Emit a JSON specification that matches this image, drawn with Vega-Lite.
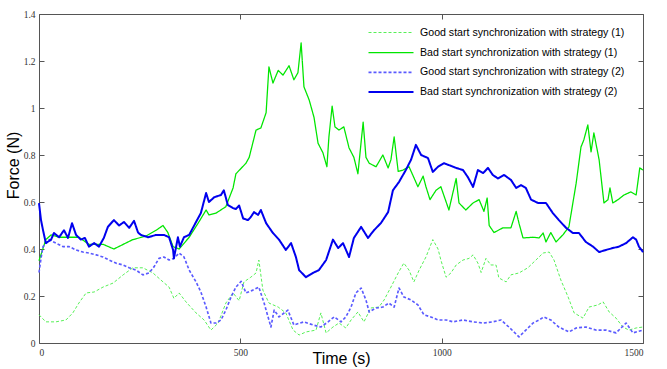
{
  "$schema": "https://vega.github.io/schema/vega-lite/v6.json",
  "width": 604,
  "height": 329,
  "autosize": "none",
  "padding": {"left": 39, "top": 14, "right": 24, "bottom": 26},
  "background": "white",
  "config": {
    "view": {"stroke": null},
    "font": "Liberation Sans",
    "axis": {
      "grid": false,
      "domainColor": "#555555",
      "tickColor": "#555555",
      "tickSize": -5,
      "labelOverlap": false,
      "labelColor": "#333333",
      "labelFont": "Liberation Sans Narrow",
      "labelFontSize": 9.5,
      "titleFont": "Liberation Sans",
      "titleFontSize": 16,
      "titleFontWeight": "normal",
      "titleColor": "#000000"
    },
    "legend": {
      "orient": "none",
      "legendX": 346,
      "legendY": 13,
      "title": null,
      "symbolType": "M-4.5,0H4.5",
      "symbolSize": 100,
      "rowPadding": 7.7,
      "labelOffset": 23,
      "labelFont": "Liberation Sans",
      "labelFontSize": 10.6,
      "labelColor": "#000000",
      "labelLimit": 400
    }
  },
  "data": {"values": [
    {"s":"G1","t":0,"f":0.12},{"s":"G1","t":17,"f":0.09},{"s":"G1","t":42,"f":0.09},{"s":"G1","t":67,"f":0.098},{"s":"G1","t":84,"f":0.128},{"s":"G1","t":99,"f":0.17},{"s":"G1","t":117,"f":0.213},{"s":"G1","t":137,"f":0.217},{"s":"G1","t":159,"f":0.238},{"s":"G1","t":184,"f":0.255},{"s":"G1","t":209,"f":0.29},{"s":"G1","t":233,"f":0.32},{"s":"G1","t":258,"f":0.32},{"s":"G1","t":283,"f":0.298},{"s":"G1","t":308,"f":0.26},{"s":"G1","t":323,"f":0.238},{"s":"G1","t":335,"f":0.19},{"s":"G1","t":348,"f":0.213},{"s":"G1","t":365,"f":0.175},{"s":"G1","t":390,"f":0.128},{"s":"G1","t":410,"f":0.098},{"s":"G1","t":427,"f":0.055},{"s":"G1","t":445,"f":0.085},{"s":"G1","t":464,"f":0.17},{"s":"G1","t":482,"f":0.213},{"s":"G1","t":497,"f":0.18},{"s":"G1","t":509,"f":0.26},{"s":"G1","t":526,"f":0.28},{"s":"G1","t":539,"f":0.298},{"s":"G1","t":546,"f":0.353},{"s":"G1","t":556,"f":0.225},{"s":"G1","t":571,"f":0.17},{"s":"G1","t":594,"f":0.153},{"s":"G1","t":613,"f":0.128},{"s":"G1","t":631,"f":0.055},{"s":"G1","t":646,"f":0.034},{"s":"G1","t":663,"f":0.047},{"s":"G1","t":688,"f":0.055},{"s":"G1","t":700,"f":0.128},{"s":"G1","t":713,"f":0.043},{"s":"G1","t":730,"f":0.068},{"s":"G1","t":745,"f":0.085},{"s":"G1","t":762,"f":0.064},{"s":"G1","t":775,"f":0.098},{"s":"G1","t":792,"f":0.132},{"s":"G1","t":807,"f":0.09},{"s":"G1","t":824,"f":0.149},{"s":"G1","t":844,"f":0.153},{"s":"G1","t":857,"f":0.183},{"s":"G1","t":874,"f":0.238},{"s":"G1","t":892,"f":0.298},{"s":"G1","t":906,"f":0.34},{"s":"G1","t":919,"f":0.31},{"s":"G1","t":931,"f":0.26},{"s":"G1","t":944,"f":0.31},{"s":"G1","t":961,"f":0.366},{"s":"G1","t":978,"f":0.44},{"s":"G1","t":991,"f":0.4},{"s":"G1","t":998,"f":0.353},{"s":"G1","t":1011,"f":0.28},{"s":"G1","t":1023,"f":0.298},{"s":"G1","t":1036,"f":0.332},{"s":"G1","t":1053,"f":0.353},{"s":"G1","t":1068,"f":0.36},{"s":"G1","t":1078,"f":0.375},{"s":"G1","t":1090,"f":0.34},{"s":"G1","t":1098,"f":0.3},{"s":"G1","t":1110,"f":0.36},{"s":"G1","t":1122,"f":0.332},{"s":"G1","t":1135,"f":0.332},{"s":"G1","t":1142,"f":0.277},{"s":"G1","t":1160,"f":0.26},{"s":"G1","t":1172,"f":0.29},{"s":"G1","t":1192,"f":0.298},{"s":"G1","t":1214,"f":0.32},{"s":"G1","t":1234,"f":0.353},{"s":"G1","t":1252,"f":0.383},{"s":"G1","t":1267,"f":0.387},{"s":"G1","t":1279,"f":0.353},{"s":"G1","t":1296,"f":0.268},{"s":"G1","t":1314,"f":0.196},{"s":"G1","t":1329,"f":0.128},{"s":"G1","t":1351,"f":0.106},{"s":"G1","t":1366,"f":0.153},{"s":"G1","t":1388,"f":0.162},{"s":"G1","t":1401,"f":0.175},{"s":"G1","t":1416,"f":0.132},{"s":"G1","t":1433,"f":0.106},{"s":"G1","t":1450,"f":0.068},{"s":"G1","t":1465,"f":0.055},{"s":"G1","t":1483,"f":0.064},{"s":"G1","t":1500,"f":0.068},

    {"s":"B1","t":0,"f":0.35},{"s":"B1","t":17,"f":0.44},{"s":"B1","t":30,"f":0.46},{"s":"B1","t":50,"f":0.45},{"s":"B1","t":75,"f":0.45},{"s":"B1","t":99,"f":0.45},{"s":"B1","t":124,"f":0.42},{"s":"B1","t":159,"f":0.42},{"s":"B1","t":186,"f":0.4},{"s":"B1","t":233,"f":0.44},{"s":"B1","t":266,"f":0.455},{"s":"B1","t":291,"f":0.48},{"s":"B1","t":308,"f":0.5},{"s":"B1","t":320,"f":0.47},{"s":"B1","t":333,"f":0.41},{"s":"B1","t":348,"f":0.4},{"s":"B1","t":373,"f":0.45},{"s":"B1","t":397,"f":0.515},{"s":"B1","t":415,"f":0.566},{"s":"B1","t":422,"f":0.545},{"s":"B1","t":440,"f":0.553},{"s":"B1","t":464,"f":0.58},{"s":"B1","t":482,"f":0.66},{"s":"B1","t":489,"f":0.72},{"s":"B1","t":514,"f":0.765},{"s":"B1","t":522,"f":0.79},{"s":"B1","t":539,"f":0.906},{"s":"B1","t":551,"f":0.915},{"s":"B1","t":564,"f":0.98},{"s":"B1","t":571,"f":1.175},{"s":"B1","t":581,"f":1.106},{"s":"B1","t":594,"f":1.16},{"s":"B1","t":606,"f":1.14},{"s":"B1","t":621,"f":1.18},{"s":"B1","t":633,"f":1.12},{"s":"B1","t":643,"f":1.15},{"s":"B1","t":651,"f":1.277},{"s":"B1","t":658,"f":1.09},{"s":"B1","t":671,"f":1.034},{"s":"B1","t":683,"f":0.96},{"s":"B1","t":693,"f":0.85},{"s":"B1","t":705,"f":0.81},{"s":"B1","t":715,"f":0.75},{"s":"B1","t":720,"f":0.877},{"s":"B1","t":728,"f":1.008},{"s":"B1","t":735,"f":0.92},{"s":"B1","t":745,"f":0.906},{"s":"B1","t":757,"f":0.92},{"s":"B1","t":770,"f":0.83},{"s":"B1","t":782,"f":0.79},{"s":"B1","t":792,"f":0.72},{"s":"B1","t":805,"f":0.94},{"s":"B1","t":812,"f":0.79},{"s":"B1","t":820,"f":0.765},{"s":"B1","t":837,"f":0.75},{"s":"B1","t":854,"f":0.8},{"s":"B1","t":867,"f":0.745},{"s":"B1","t":874,"f":0.78},{"s":"B1","t":882,"f":0.877},{"s":"B1","t":892,"f":0.73},{"s":"B1","t":904,"f":0.736},{"s":"B1","t":919,"f":0.75},{"s":"B1","t":941,"f":0.665},{"s":"B1","t":954,"f":0.71},{"s":"B1","t":961,"f":0.665},{"s":"B1","t":971,"f":0.61},{"s":"B1","t":986,"f":0.65},{"s":"B1","t":998,"f":0.665},{"s":"B1","t":1018,"f":0.566},{"s":"B1","t":1036,"f":0.7},{"s":"B1","t":1043,"f":0.596},{"s":"B1","t":1060,"f":0.566},{"s":"B1","t":1078,"f":0.596},{"s":"B1","t":1093,"f":0.61},{"s":"B1","t":1105,"f":0.56},{"s":"B1","t":1113,"f":0.617},{"s":"B1","t":1118,"f":0.5},{"s":"B1","t":1130,"f":0.47},{"s":"B1","t":1152,"f":0.49},{"s":"B1","t":1172,"f":0.49},{"s":"B1","t":1185,"f":0.56},{"s":"B1","t":1192,"f":0.51},{"s":"B1","t":1202,"f":0.447},{"s":"B1","t":1227,"f":0.45},{"s":"B1","t":1242,"f":0.447},{"s":"B1","t":1252,"f":0.468},{"s":"B1","t":1259,"f":0.43},{"s":"B1","t":1271,"f":0.47},{"s":"B1","t":1284,"f":0.43},{"s":"B1","t":1301,"f":0.46},{"s":"B1","t":1316,"f":0.494},{"s":"B1","t":1334,"f":0.68},{"s":"B1","t":1346,"f":0.834},{"s":"B1","t":1353,"f":0.864},{"s":"B1","t":1363,"f":0.928},{"s":"B1","t":1371,"f":0.813},{"s":"B1","t":1378,"f":0.894},{"s":"B1","t":1391,"f":0.78},{"s":"B1","t":1403,"f":0.596},{"s":"B1","t":1413,"f":0.61},{"s":"B1","t":1418,"f":0.66},{"s":"B1","t":1425,"f":0.596},{"s":"B1","t":1438,"f":0.61},{"s":"B1","t":1453,"f":0.63},{"s":"B1","t":1470,"f":0.643},{"s":"B1","t":1483,"f":0.63},{"s":"B1","t":1492,"f":0.745},{"s":"B1","t":1500,"f":0.736},

    {"s":"G2","t":0,"f":0.3},{"s":"G2","t":5,"f":0.36},{"s":"G2","t":10,"f":0.41},{"s":"G2","t":25,"f":0.44},{"s":"G2","t":42,"f":0.425},{"s":"G2","t":60,"f":0.41},{"s":"G2","t":75,"f":0.41},{"s":"G2","t":92,"f":0.396},{"s":"G2","t":109,"f":0.387},{"s":"G2","t":124,"f":0.383},{"s":"G2","t":142,"f":0.375},{"s":"G2","t":159,"f":0.366},{"s":"G2","t":174,"f":0.353},{"s":"G2","t":191,"f":0.34},{"s":"G2","t":209,"f":0.332},{"s":"G2","t":224,"f":0.32},{"s":"G2","t":241,"f":0.31},{"s":"G2","t":258,"f":0.29},{"s":"G2","t":273,"f":0.298},{"s":"G2","t":286,"f":0.325},{"s":"G2","t":298,"f":0.36},{"s":"G2","t":310,"f":0.366},{"s":"G2","t":323,"f":0.353},{"s":"G2","t":335,"f":0.36},{"s":"G2","t":348,"f":0.383},{"s":"G2","t":360,"f":0.366},{"s":"G2","t":373,"f":0.31},{"s":"G2","t":390,"f":0.26},{"s":"G2","t":402,"f":0.217},{"s":"G2","t":415,"f":0.153},{"s":"G2","t":427,"f":0.085},{"s":"G2","t":440,"f":0.085},{"s":"G2","t":452,"f":0.098},{"s":"G2","t":464,"f":0.14},{"s":"G2","t":477,"f":0.196},{"s":"G2","t":489,"f":0.238},{"s":"G2","t":502,"f":0.262},{"s":"G2","t":514,"f":0.213},{"s":"G2","t":531,"f":0.225},{"s":"G2","t":546,"f":0.238},{"s":"G2","t":559,"f":0.17},{"s":"G2","t":576,"f":0.068},{"s":"G2","t":584,"f":0.14},{"s":"G2","t":596,"f":0.111},{"s":"G2","t":618,"f":0.14},{"s":"G2","t":633,"f":0.077},{"s":"G2","t":658,"f":0.09},{"s":"G2","t":680,"f":0.077},{"s":"G2","t":700,"f":0.068},{"s":"G2","t":718,"f":0.09},{"s":"G2","t":733,"f":0.111},{"s":"G2","t":750,"f":0.09},{"s":"G2","t":762,"f":0.111},{"s":"G2","t":775,"f":0.153},{"s":"G2","t":787,"f":0.213},{"s":"G2","t":800,"f":0.234},{"s":"G2","t":812,"f":0.183},{"s":"G2","t":820,"f":0.132},{"s":"G2","t":837,"f":0.149},{"s":"G2","t":854,"f":0.153},{"s":"G2","t":869,"f":0.17},{"s":"G2","t":882,"f":0.153},{"s":"G2","t":894,"f":0.234},{"s":"G2","t":906,"f":0.196},{"s":"G2","t":924,"f":0.183},{"s":"G2","t":941,"f":0.162},{"s":"G2","t":956,"f":0.12},{"s":"G2","t":973,"f":0.111},{"s":"G2","t":991,"f":0.098},{"s":"G2","t":1011,"f":0.098},{"s":"G2","t":1028,"f":0.09},{"s":"G2","t":1053,"f":0.098},{"s":"G2","t":1078,"f":0.09},{"s":"G2","t":1103,"f":0.085},{"s":"G2","t":1127,"f":0.09},{"s":"G2","t":1147,"f":0.098},{"s":"G2","t":1167,"f":0.068},{"s":"G2","t":1192,"f":0.026},{"s":"G2","t":1209,"f":0.055},{"s":"G2","t":1227,"f":0.085},{"s":"G2","t":1242,"f":0.098},{"s":"G2","t":1254,"f":0.111},{"s":"G2","t":1271,"f":0.098},{"s":"G2","t":1291,"f":0.068},{"s":"G2","t":1316,"f":0.047},{"s":"G2","t":1334,"f":0.064},{"s":"G2","t":1358,"f":0.068},{"s":"G2","t":1383,"f":0.055},{"s":"G2","t":1408,"f":0.055},{"s":"G2","t":1433,"f":0.043},{"s":"G2","t":1458,"f":0.085},{"s":"G2","t":1475,"f":0.043},{"s":"G2","t":1500,"f":0.055},

    {"s":"B2","t":0,"f":0.595},{"s":"B2","t":5,"f":0.523},{"s":"B2","t":10,"f":0.48},{"s":"B2","t":17,"f":0.425},{"s":"B2","t":30,"f":0.44},{"s":"B2","t":37,"f":0.468},{"s":"B2","t":50,"f":0.45},{"s":"B2","t":62,"f":0.48},{"s":"B2","t":72,"f":0.447},{"s":"B2","t":82,"f":0.51},{"s":"B2","t":92,"f":0.46},{"s":"B2","t":104,"f":0.44},{"s":"B2","t":114,"f":0.447},{"s":"B2","t":124,"f":0.41},{"s":"B2","t":137,"f":0.425},{"s":"B2","t":149,"f":0.41},{"s":"B2","t":161,"f":0.447},{"s":"B2","t":171,"f":0.494},{"s":"B2","t":186,"f":0.523},{"s":"B2","t":199,"f":0.5},{"s":"B2","t":211,"f":0.515},{"s":"B2","t":224,"f":0.49},{"s":"B2","t":236,"f":0.52},{"s":"B2","t":246,"f":0.47},{"s":"B2","t":253,"f":0.46},{"s":"B2","t":271,"f":0.45},{"s":"B2","t":291,"f":0.46},{"s":"B2","t":310,"f":0.46},{"s":"B2","t":323,"f":0.45},{"s":"B2","t":333,"f":0.396},{"s":"B2","t":335,"f":0.36},{"s":"B2","t":345,"f":0.45},{"s":"B2","t":350,"f":0.41},{"s":"B2","t":360,"f":0.45},{"s":"B2","t":373,"f":0.46},{"s":"B2","t":390,"f":0.515},{"s":"B2","t":402,"f":0.553},{"s":"B2","t":415,"f":0.638},{"s":"B2","t":422,"f":0.6},{"s":"B2","t":435,"f":0.62},{"s":"B2","t":452,"f":0.63},{"s":"B2","t":459,"f":0.65},{"s":"B2","t":469,"f":0.587},{"s":"B2","t":482,"f":0.574},{"s":"B2","t":489,"f":0.57},{"s":"B2","t":497,"f":0.585},{"s":"B2","t":507,"f":0.53},{"s":"B2","t":519,"f":0.523},{"s":"B2","t":526,"f":0.536},{"s":"B2","t":534,"f":0.557},{"s":"B2","t":544,"f":0.545},{"s":"B2","t":551,"f":0.566},{"s":"B2","t":564,"f":0.51},{"s":"B2","t":581,"f":0.468},{"s":"B2","t":596,"f":0.44},{"s":"B2","t":613,"f":0.396},{"s":"B2","t":626,"f":0.425},{"s":"B2","t":638,"f":0.366},{"s":"B2","t":646,"f":0.31},{"s":"B2","t":663,"f":0.28},{"s":"B2","t":680,"f":0.298},{"s":"B2","t":695,"f":0.31},{"s":"B2","t":713,"f":0.353},{"s":"B2","t":730,"f":0.44},{"s":"B2","t":743,"f":0.404},{"s":"B2","t":755,"f":0.425},{"s":"B2","t":770,"f":0.366},{"s":"B2","t":782,"f":0.447},{"s":"B2","t":800,"f":0.494},{"s":"B2","t":817,"f":0.447},{"s":"B2","t":832,"f":0.48},{"s":"B2","t":849,"f":0.51},{"s":"B2","t":867,"f":0.557},{"s":"B2","t":879,"f":0.65},{"s":"B2","t":894,"f":0.685},{"s":"B2","t":911,"f":0.736},{"s":"B2","t":924,"f":0.78},{"s":"B2","t":936,"f":0.843},{"s":"B2","t":949,"f":0.8},{"s":"B2","t":966,"f":0.787},{"s":"B2","t":978,"f":0.728},{"s":"B2","t":991,"f":0.75},{"s":"B2","t":1006,"f":0.765},{"s":"B2","t":1036,"f":0.745},{"s":"B2","t":1053,"f":0.736},{"s":"B2","t":1065,"f":0.706},{"s":"B2","t":1078,"f":0.664},{"s":"B2","t":1090,"f":0.736},{"s":"B2","t":1103,"f":0.723},{"s":"B2","t":1115,"f":0.745},{"s":"B2","t":1127,"f":0.715},{"s":"B2","t":1140,"f":0.7},{"s":"B2","t":1155,"f":0.715},{"s":"B2","t":1172,"f":0.694},{"s":"B2","t":1185,"f":0.66},{"s":"B2","t":1197,"f":0.672},{"s":"B2","t":1209,"f":0.66},{"s":"B2","t":1222,"f":0.61},{"s":"B2","t":1239,"f":0.596},{"s":"B2","t":1259,"f":0.596},{"s":"B2","t":1276,"f":0.553},{"s":"B2","t":1291,"f":0.523},{"s":"B2","t":1309,"f":0.49},{"s":"B2","t":1326,"f":0.468},{"s":"B2","t":1341,"f":0.468},{"s":"B2","t":1358,"f":0.43},{"s":"B2","t":1376,"f":0.41},{"s":"B2","t":1391,"f":0.387},{"s":"B2","t":1408,"f":0.396},{"s":"B2","t":1425,"f":0.404},{"s":"B2","t":1440,"f":0.41},{"s":"B2","t":1458,"f":0.425},{"s":"B2","t":1475,"f":0.45},{"s":"B2","t":1483,"f":0.44},{"s":"B2","t":1490,"f":0.41},{"s":"B2","t":1500,"f":0.387}
  ]},
  "layer": [
    {
      "mark": {"type": "line", "strokeJoin": "round"},
      "encoding": {
        "x": {"field": "t", "type": "quantitative", "scale": {"domain": [0, 1500], "nice": false},
              "axis": {"orient": "bottom", "values": [0, 500, 1000, 1500], "format": "d", "title": "Time (s)", "labelPadding": 9, "titleY": 20, "titleBaseline": "alphabetic"}},
        "y": {"field": "f", "type": "quantitative", "scale": {"domain": [0, 1.4], "nice": false},
              "axis": {"orient": "left", "values": [0, 0.2, 0.4, 0.6, 0.8, 1, 1.2, 1.4], "format": "~g", "title": "Force (N)", "labelPadding": 9, "titleX": -26, "titleY": 151, "titleBaseline": "middle", "titleAlign": "center", "titleAngle": -90}},
        "color": {"field": "s", "type": "nominal",
                  "scale": {"domain": ["G1", "B1", "G2", "B2"], "range": ["#44ee44", "#00e600", "#5a5aff", "#0000ee"]},
                  "legend": {"labelExpr": "datum.value == 'G1' ? 'Good start synchronization with strategy (1)' : datum.value == 'B1' ? 'Bad start synchronization with strategy (1)' : datum.value == 'G2' ? 'Good start synchronization with strategy (2)' : 'Bad start synchronization with strategy (2)'"}},
        "strokeDash": {"field": "s", "type": "nominal",
                  "scale": {"domain": ["G1", "B1", "G2", "B2"], "range": [[3, 2], [1, 0], [3, 2], [1, 0]]},
                  "legend": {"labelExpr": "datum.value == 'G1' ? 'Good start synchronization with strategy (1)' : datum.value == 'B1' ? 'Bad start synchronization with strategy (1)' : datum.value == 'G2' ? 'Good start synchronization with strategy (2)' : 'Bad start synchronization with strategy (2)'"}},
        "strokeWidth": {"field": "s", "type": "nominal",
                  "scale": {"domain": ["G1", "B1", "G2", "B2"], "range": [0.9, 2, 0.8, 2.8]},
                  "legend": {"labelExpr": "datum.value == 'G1' ? 'Good start synchronization with strategy (1)' : datum.value == 'B1' ? 'Bad start synchronization with strategy (1)' : datum.value == 'G2' ? 'Good start synchronization with strategy (2)' : 'Bad start synchronization with strategy (2)'"}}
      }
    },
    {
      "mark": {"type": "point", "opacity": 0},
      "encoding": {
        "x": {"field": "t", "type": "quantitative", "axis": {"orient": "top", "values": [0, 500, 1000, 1500], "labels": false, "title": null}},
        "y": {"field": "f", "type": "quantitative", "axis": {"orient": "right", "values": [0, 0.2, 0.4, 0.6, 0.8, 1, 1.2, 1.4], "labels": false, "title": null}}
      }
    }
  ],
  "resolve": {"axis": {"x": "independent", "y": "independent"}}
}
